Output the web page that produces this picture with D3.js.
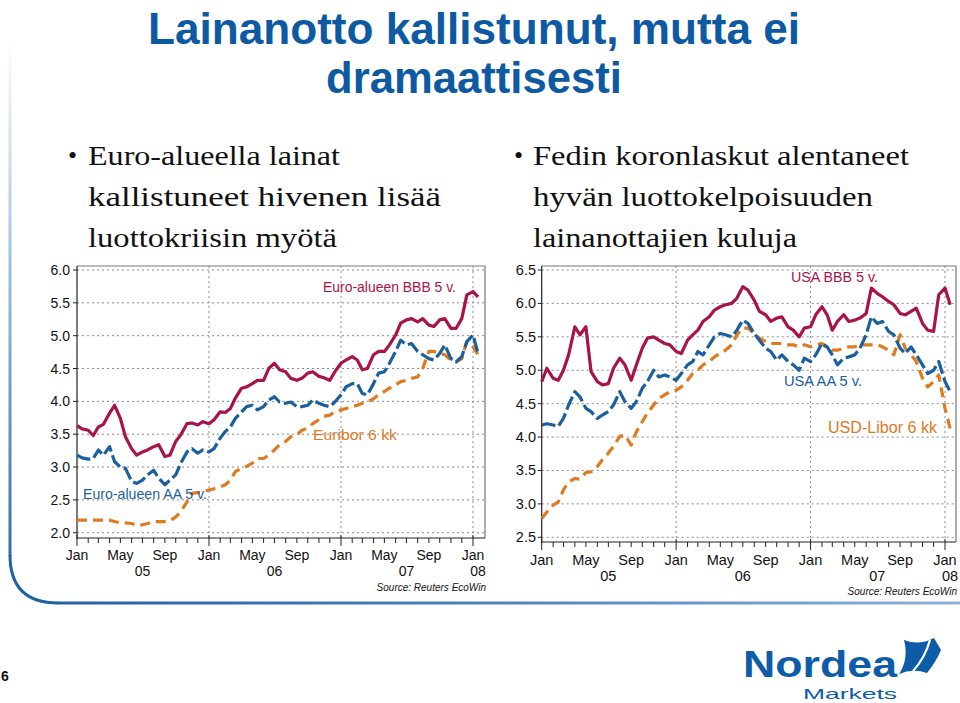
<!DOCTYPE html>
<html><head><meta charset="utf-8">
<script src="https://cdn.jsdelivr.net/npm/d3@7"></script>
<style>body{margin:0;background:#fff}svg{display:block}</style>
</head><body>
<svg id="c" width="960" height="703"></svg>
<script>
// ---- categories: semi-monthly observation dates (1st and 15th), Jan 2005 .. mid Jan 2008
const dates = d3.range(74).map(i => new Date(2005 + Math.floor(i / 24), Math.floor((i % 24) / 2), i % 2 ? 15 : 1));

// ---- Euro area (left chart), %
const euroBBB = [3.63,3.58,3.56,3.48,3.61,3.65,3.82,3.94,3.74,3.46,3.28,3.18,3.23,3.26,3.31,3.34,3.16,3.18,3.39,3.49,3.66,3.67,3.64,3.69,
  3.66,3.72,3.84,3.83,3.89,4.05,4.20,4.22,4.27,4.32,4.32,4.50,4.58,4.48,4.45,4.35,4.32,4.35,4.43,4.45,4.38,4.36,4.32,4.45,
  4.58,4.63,4.68,4.63,4.48,4.50,4.71,4.76,4.76,4.86,5.01,5.19,5.24,5.26,5.21,5.26,5.16,5.14,5.24,5.26,5.11,5.11,5.26,5.62,
  5.67,5.59];
const euroAA = [3.18,3.14,3.12,3.13,3.26,3.18,3.31,3.08,3.00,2.98,2.78,2.75,2.80,2.88,2.95,2.83,2.73,2.80,2.88,3.06,3.23,3.28,3.21,3.26,
  3.23,3.28,3.44,3.54,3.61,3.74,3.84,3.92,3.94,3.87,3.92,4.02,4.07,3.99,3.97,3.99,3.92,3.92,3.94,4.02,3.97,3.94,3.92,3.99,
  4.10,4.22,4.27,4.27,4.12,4.10,4.27,4.43,4.45,4.58,4.76,4.93,4.86,4.88,4.76,4.71,4.65,4.63,4.73,4.86,4.65,4.60,4.68,4.91,
  5.01,4.73];
const euribor6m = [2.19,2.19,2.19,2.19,2.19,2.19,2.19,2.17,2.15,2.15,2.14,2.11,2.12,2.14,2.17,2.17,2.17,2.18,2.24,2.32,2.47,2.60,2.61,2.62,
  2.65,2.67,2.70,2.73,2.80,2.93,2.98,3.01,3.06,3.13,3.13,3.18,3.26,3.34,3.39,3.46,3.49,3.56,3.59,3.66,3.72,3.77,3.79,3.84,
  3.87,3.89,3.92,3.94,3.97,3.99,4.04,4.10,4.15,4.20,4.25,4.30,4.32,4.35,4.37,4.50,4.76,4.76,4.73,4.71,4.63,4.60,4.65,4.91,
  4.83,4.71];

// ---- USA (right chart), %
const usaBBB = [4.83,5.03,4.88,4.85,5.00,5.23,5.65,5.53,5.65,4.98,4.83,4.78,4.80,5.03,5.18,5.08,4.85,5.08,5.33,5.48,5.50,5.45,5.40,5.38,
  5.28,5.25,5.45,5.53,5.60,5.73,5.80,5.90,5.95,5.98,6.00,6.08,6.25,6.20,6.05,5.88,5.83,5.73,5.78,5.80,5.65,5.60,5.50,5.63,
  5.65,5.83,5.95,5.83,5.60,5.73,5.83,5.73,5.75,5.78,5.85,6.23,6.15,6.10,6.03,5.98,5.85,5.83,5.88,5.93,5.70,5.60,5.58,6.13,
  6.23,5.98];
const usaAA = [4.18,4.20,4.18,4.16,4.28,4.48,4.68,4.60,4.43,4.38,4.28,4.33,4.38,4.48,4.68,4.53,4.43,4.53,4.73,4.83,5.00,4.90,4.93,4.90,
  4.85,4.95,5.08,5.13,5.28,5.23,5.38,5.50,5.55,5.53,5.50,5.60,5.75,5.70,5.55,5.45,5.33,5.28,5.15,5.23,5.13,5.08,5.00,5.18,
  5.13,5.23,5.40,5.35,5.23,5.08,5.18,5.20,5.23,5.33,5.53,5.80,5.70,5.73,5.58,5.53,5.33,5.25,5.35,5.23,5.08,4.95,5.00,5.13,
  4.83,4.68];
const usdLibor6m = [2.78,2.88,2.98,3.03,3.21,3.33,3.38,3.37,3.47,3.48,3.56,3.66,3.76,3.86,4.01,4.03,3.88,4.08,4.23,4.36,4.48,4.58,4.63,4.68,
  4.70,4.75,4.85,4.95,5.00,5.08,5.13,5.20,5.25,5.30,5.38,5.53,5.63,5.63,5.55,5.48,5.43,5.40,5.40,5.40,5.38,5.38,5.35,5.38,
  5.35,5.38,5.40,5.33,5.30,5.30,5.33,5.35,5.35,5.38,5.38,5.38,5.38,5.35,5.30,5.23,5.53,5.33,5.23,5.13,4.88,4.75,4.83,4.93,
  4.43,4.13];

// ---- tick labels
const monthTickLabels = ["Jan", "May", "Sep"];
const yearLabels = ["05", "06", "07", "08"];
const leftYTicks = [2.0, 2.5, 3.0, 3.5, 4.0, 4.5, 5.0, 5.5, 6.0];
const rightYTicks = [2.5, 3.0, 3.5, 4.0, 4.5, 5.0, 5.5, 6.0, 6.5];

const RED = "#a8134a", BLUE = "#1a5f9e", ORANGE = "#e07a1f";
const svg = d3.select("#c");
const FONT = "'Liberation Sans', Arial, sans-serif";
const defs = svg.append("defs");

// ---- frame
const g1 = defs.append("linearGradient").attr("id", "gv").attr("gradientUnits", "userSpaceOnUse")
  .attr("x1", 0).attr("y1", 40).attr("x2", 0).attr("y2", 600);
g1.append("stop").attr("offset", 0).attr("stop-color", "#ffffff");
g1.append("stop").attr("offset", 0.25).attr("stop-color", "#c4d6ea");
g1.append("stop").attr("offset", 1).attr("stop-color", "#1f62a6");
const g2 = defs.append("linearGradient").attr("id", "gh").attr("gradientUnits", "userSpaceOnUse")
  .attr("x1", 40).attr("y1", 0).attr("x2", 960).attr("y2", 0);
g2.append("stop").attr("offset", 0).attr("stop-color", "#1f62a6");
g2.append("stop").attr("offset", 0.5).attr("stop-color", "#4f84bd");
g2.append("stop").attr("offset", 1).attr("stop-color", "#8fb2d6");
svg.append("path").attr("d", "M10,40 L10,556").attr("stroke", "url(#gv)").attr("stroke-width", 3).attr("fill", "none");
svg.append("path").attr("d", "M10,555 Q10,603 58,603").attr("stroke", "#1f62a6").attr("stroke-width", 3).attr("fill", "none");
svg.append("path").attr("d", "M57,603 L960,603").attr("stroke", "url(#gh)").attr("stroke-width", 3).attr("fill", "none");

// ---- title
const TITLE = "#0d5aa3";
svg.append("text").attr("x", 148).attr("y", 44).attr("font-family", "'Liberation Sans Narrow','Liberation Sans',Arial,sans-serif")
  .attr("font-weight", "bold").attr("font-size", 45).attr("fill", TITLE)
  .attr("textLength", 652).attr("lengthAdjust", "spacingAndGlyphs").text("Lainanotto kallistunut, mutta ei");
svg.append("text").attr("x", 326).attr("y", 93).attr("font-family", "'Liberation Sans Narrow','Liberation Sans',Arial,sans-serif")
  .attr("font-weight", "bold").attr("font-size", 45).attr("fill", TITLE)
  .attr("textLength", 296).attr("lengthAdjust", "spacingAndGlyphs").text("dramaattisesti");

// ---- bullets
const SERIF = "'Liberation Serif','DejaVu Serif',serif";
const bullets = [
  {bx: 68, tx: 88, lines: [["Euro-alueella lainat", 252], ["kallistuneet hivenen lisää", 353], ["luottokriisin myötä", 249]]},
  {bx: 514, tx: 533, lines: [["Fedin koronlaskut alentaneet", 376], ["hyvän luottokelpoisuuden", 340], ["lainanottajien kuluja", 264]]}
];
bullets.forEach(b => {
  svg.append("text").attr("x", b.bx).attr("y", 164).attr("font-family", SERIF).attr("font-size", 26).attr("fill", "#111").text("•");
  b.lines.forEach((l, i) => {
    svg.append("text").attr("x", b.tx).attr("y", 165 + i * 41).attr("font-family", SERIF).attr("font-size", 28).attr("fill", "#111")
      .attr("textLength", l[1]).attr("lengthAdjust", "spacingAndGlyphs").text(l[0]);
  });
});

// ---- charts
function drawChart(cfg) {
  const x = d3.scaleTime().domain([new Date(2005, 0, 1), new Date(2008, 0, 1)]).range(cfg.xr);
  const y = d3.scaleLinear().domain(cfg.yd).range(cfg.yr);
  const g = svg.append("g");
  const L = cfg.xr[0], R = cfg.right, T = cfg.top, B = cfg.bottom;
  // grid
  g.selectAll(".hg").data(cfg.yTicks.filter(v => y(v) > T + 2 && y(v) < B - 2)).join("line")
    .attr("x1", L).attr("x2", R).attr("y1", d => y(d)).attr("y2", d => y(d))
    .attr("stroke", "#8a8a8a").attr("stroke-width", 1).attr("stroke-dasharray", "2,3");
  const years = [new Date(2006, 0, 1), new Date(2007, 0, 1), new Date(2008, 0, 1)];
  g.selectAll(".vg").data(years).join("line")
    .attr("x1", d => x(d)).attr("x2", d => x(d)).attr("y1", T).attr("y2", B)
    .attr("stroke", "#8a8a8a").attr("stroke-width", 1).attr("stroke-dasharray", "2,3");
  // box
  g.append("path").attr("d", `M${L},${T} L${R},${T} L${R},${B}`).attr("fill", "none").attr("stroke", "#777").attr("stroke-width", 1.2);
  g.append("line").attr("x1", L).attr("x2", L).attr("y1", T).attr("y2", B + 1).attr("stroke", "#222").attr("stroke-width", 1.2);
  g.append("line").attr("x1", L).attr("x2", R).attr("y1", B).attr("y2", B).attr("stroke", "#222").attr("stroke-width", 1.2);
  // y ticks
  g.selectAll(".yt").data(cfg.yTicks).join("line").attr("x1", L - 4).attr("x2", L).attr("y1", d => y(d)).attr("y2", d => y(d)).attr("stroke", "#222");
  g.selectAll(".yl").data(cfg.yTicks).join("text").attr("x", cfg.ylx).attr("y", d => y(d) + 5)
    .attr("text-anchor", "end").attr("font-family", FONT).attr("font-size", cfg.fs).attr("fill", "#111").text(d => d.toFixed(1));
  // x ticks
  const months = d3.timeMonth.range(new Date(2005, 0, 1), new Date(2008, 0, 2));
  g.selectAll(".xt").data(months).join("line").attr("x1", d => x(d)).attr("x2", d => x(d))
    .attr("y1", d => d.getMonth() === 0 ? B - 3 : B).attr("y2", d => d.getMonth() === 0 ? B + 8 : B + 5).attr("stroke", "#222").attr("stroke-width", 1);
  const labMonths = months.filter(d => d.getMonth() % 4 === 0);
  g.selectAll(".xl").data(labMonths).join("text").attr("x", d => x(d)).attr("y", cfg.mly)
    .attr("text-anchor", "middle").attr("font-family", FONT).attr("font-size", cfg.fs).attr("fill", "#111")
    .text(d => monthTickLabels[d.getMonth() / 4]);
  const yearPos = [new Date(2005, 6, 1), new Date(2006, 6, 1), new Date(2007, 6, 1), new Date(2008, 0, 1)];
  g.selectAll(".yrl").data(yearPos).join("text").attr("x", (d, i) => x(d) + (i === 3 ? 5 : 0)).attr("y", cfg.yly)
    .attr("text-anchor", "middle").attr("font-family", FONT).attr("font-size", cfg.fs).attr("fill", "#111")
    .text((d, i) => yearLabels[i]);
  g.append("text").attr("x", cfg.right + 1).attr("y", cfg.sy).attr("text-anchor", "end").attr("font-family", FONT)
    .attr("font-style", "italic").attr("font-size", 10).attr("fill", "#111").text("Source: Reuters EcoWin");
  // series
  const line = d3.line().x((d, i) => x(dates[i])).y(d => y(d));
  cfg.series.forEach(s => {
    g.append("path").datum(s.v).attr("d", line).attr("fill", "none").attr("stroke", s.c).attr("stroke-width", 3.2)
      .attr("stroke-linejoin", "round").attr("stroke-dasharray", s.dash || null);
  });
  cfg.labels.forEach(l => {
    g.append("text").attr("x", l.x).attr("y", l.y).attr("font-family", FONT).attr("font-size", l.fs).attr("fill", l.c)
      .attr("textLength", l.w).attr("lengthAdjust", "spacingAndGlyphs").text(l.t);
  });
}

drawChart({
  xr: [77, 473], right: 485, top: 266, bottom: 538, yd: [2.0, 6.0], yr: [532.7, 270], yTicks: leftYTicks,
  ylx: 70, fs: 14, mly: 560, yly: 576, sy: 591,
  series: [
    {v: euribor6m, c: ORANGE, dash: "10,6"},
    {v: euroAA, c: BLUE, dash: "14,4"},
    {v: euroBBB, c: RED}
  ],
  labels: [
    {t: "Euro-alueen BBB 5 v.", x: 323, y: 292, fs: 14, c: RED, w: 133},
    {t: "Euribor 6 kk", x: 313, y: 440, fs: 15, c: ORANGE, w: 84},
    {t: "Euro-alueen AA 5 v.", x: 83, y: 499, fs: 14, c: BLUE, w: 124}
  ]
});
drawChart({
  xr: [541.7, 945], right: 956, top: 266, bottom: 542, yd: [2.5, 6.5], yr: [537.3, 270], yTicks: rightYTicks,
  ylx: 536, fs: 14.5, mly: 565, yly: 581, sy: 595,
  series: [
    {v: usdLibor6m, c: ORANGE, dash: "10,6"},
    {v: usaAA, c: BLUE, dash: "14,4"},
    {v: usaBBB, c: RED}
  ],
  labels: [
    {t: "USA BBB 5 v.", x: 791, y: 282, fs: 14, c: RED, w: 87},
    {t: "USA AA 5 v.", x: 784, y: 386, fs: 14, c: BLUE, w: 78},
    {t: "USD-Libor 6 kk", x: 828, y: 433, fs: 16, c: ORANGE, w: 109}
  ]
});

// ---- page number
svg.append("text").attr("x", 1).attr("y", 681).attr("font-family", FONT).attr("font-weight", "bold").attr("font-size", 14).attr("fill", "#111").text("6");

// ---- logo
const LOGO = "#0d5ca8";
svg.append("text").attr("x", 743).attr("y", 677).attr("font-family", FONT).attr("font-weight", "bold").attr("font-size", 36)
  .attr("fill", LOGO).attr("textLength", 154).attr("lengthAdjust", "spacingAndGlyphs").text("Nordea");
svg.append("text").attr("x", 803).attr("y", 699).attr("font-family", FONT).attr("font-size", 15)
  .attr("fill", LOGO).attr("textLength", 94).attr("lengthAdjust", "spacingAndGlyphs").text("Markets");
svg.append("path").attr("d", "M904,640 Q919,646 934,638 L941,650 Q936,662 927,673 Q913,668 899,674 Q909,659 904,640 Z").attr("fill", LOGO);
svg.append("path").attr("d", "M930,640 Q925,658 913,671").attr("fill", "none").attr("stroke", "#fff").attr("stroke-width", 2.2);
</script>
</body></html>
